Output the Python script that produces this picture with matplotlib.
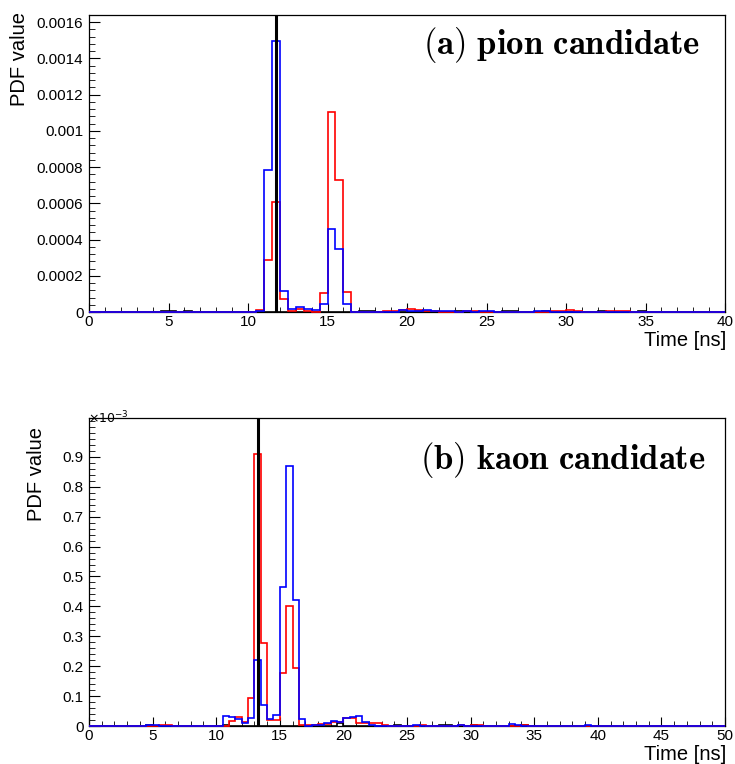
import matplotlib
matplotlib.use("Agg")
import matplotlib.pyplot as plt
from matplotlib.ticker import MultipleLocator, FuncFormatter, FixedLocator
import numpy as np

plt.rcParams['font.family'] = ['Liberation Sans', 'DejaVu Sans']

# ---- (a) pion candidate: 0.5 ns bins, 0-40 ns (bin start time, PDF value)
pion_blue_t = [10.5, 11.0, 11.5, 12.0, 12.5, 13.0, 13.5, 14.0, 14.5, 15.0, 15.5, 16.0,
               19.0, 19.5, 20.0, 20.5, 21.0, 21.5, 22.0, 22.5, 23.5, 24.5, 25.0, 28.0, 28.5]
pion_blue_v = [0.000007, 0.000786, 0.001498, 0.000114, 0.000018, 0.000028, 0.000018,
               0.000013, 0.000042, 0.000458, 0.000348, 0.000042,
               0.000002, 0.000009, 0.000005, 0.000007, 0.000013, 0.000005, 0.000005,
               0.000005, 0.000004, 0.000007, 0.000007, 0.000007, 0.000004]
pion_red_t = [10.5, 11.0, 11.5, 12.0, 12.5, 13.0, 13.5, 14.5, 15.0, 15.5, 16.0,
              18.5, 19.0, 19.5, 20.0, 20.5, 21.0, 21.5, 23.5, 24.0,
              29.0, 29.5, 30.0, 30.5, 32.5, 33.0, 33.5]
pion_red_v = [0.000011, 0.000289, 0.000605, 0.000070, 0.000005, 0.000018, 0.000005,
              0.000105, 0.001104, 0.000730, 0.000108,
              0.000004, 0.000005, 0.000013, 0.000018, 0.000009, 0.000005, 0.000004,
              0.000005, 0.000005, 0.000004, 0.000004, 0.000009, 0.000004,
              0.000004, 0.000004, 0.000004]
pion_black_t = [4.5, 5.0, 6.0, 17.0, 17.5, 23.0, 26.0, 26.5, 28.5, 32.0, 34.5]
pion_black_v = [0.000004, 0.000004, 0.000004, 0.000004, 0.000004, 0.000003,
                0.000003, 0.000003, 0.000004, 0.000003, 0.000004]
pion_time = 11.76

# ---- (b) kaon candidate: 0.5 ns bins, 0-50 ns, values in units of 1e-3
kaon_blue_t = [4.5, 5.0, 10.5, 11.0, 11.5, 12.0, 12.5, 13.0, 13.5, 14.0, 14.5, 15.0,
               15.5, 16.0, 16.5, 17.5, 18.0, 18.5, 19.0, 19.5, 20.0, 20.5, 21.0,
               21.5, 22.0, 25.5, 29.0, 33.0, 33.5, 39.0]
kaon_blue_v = [0.002, 0.002, 0.033, 0.029, 0.022, 0.009, 0.026, 0.220, 0.070, 0.023,
               0.037, 0.464, 0.868, 0.420, 0.022, 0.005, 0.005, 0.009, 0.018, 0.014,
               0.027, 0.031, 0.033, 0.014, 0.005, 0.005, 0.002, 0.006, 0.003, 0.002]
kaon_red_t = [5.5, 6.0, 11.0, 11.5, 12.0, 12.5, 13.0, 13.5, 14.0, 14.5, 15.0, 15.5,
              16.0, 16.5, 17.0, 17.5, 18.0, 18.5, 19.0, 19.5, 20.0, 20.5, 21.0,
              21.5, 22.0, 22.5, 23.0, 26.0, 29.0, 30.0, 30.5, 34.0]
kaon_red_v = [0.002, 0.002, 0.017, 0.030, 0.013, 0.093, 0.910, 0.277, 0.020, 0.020,
              0.176, 0.400, 0.193, 0.002, 0.002, 0.005, 0.008, 0.007, 0.012, 0.012,
              0.026, 0.028, 0.011, 0.009, 0.009, 0.009, 0.002, 0.002, 0.005, 0.002,
              0.002, 0.002]
kaon_black_t = [4.5, 10.5, 19.5, 24.0, 27.5, 28.0, 30.0, 34.0]
kaon_black_v = [0.002, 0.002, 0.010, 0.002, 0.002, 0.002, 0.002, 0.002]
kaon_time = 13.27

pion_yticks = [0, 0.0002, 0.0004, 0.0006, 0.0008, 0.001, 0.0012, 0.0014, 0.0016]
kaon_yticks = [0, 0.1, 0.2, 0.3, 0.4, 0.5, 0.6, 0.7, 0.8, 0.9]

bin_w = 0.5


def fill(t, v, nbins):
    h = np.zeros(nbins)
    idx = np.round(np.array(t) / bin_w).astype(int)
    h[idx] = v
    return h


def style(ax, xmax, yticks, ymin):
    ax.set_xlim(0, xmax)
    ax.xaxis.set_major_locator(MultipleLocator(5))
    ax.xaxis.set_minor_locator(MultipleLocator(1))
    ax.yaxis.set_major_locator(FixedLocator(yticks))
    ax.yaxis.set_minor_locator(MultipleLocator(ymin))
    ax.yaxis.set_major_formatter(FuncFormatter(lambda y, p: '%g' % round(y, 6)))
    ax.tick_params(which='both', direction='in', top=False, right=False, labelsize=11)
    ax.tick_params(axis='x', which='major', length=6.5, pad=2)
    ax.tick_params(axis='x', which='minor', length=3.5)
    ax.tick_params(axis='y', which='major', length=8, pad=4)
    ax.tick_params(axis='y', which='minor', length=4)
    for s in ax.spines.values():
        s.set_linewidth(0.9)


fig = plt.figure(figsize=(7.35, 7.64), dpi=100)

# top panel
ax1 = fig.add_axes([89 / 735, 1 - 312 / 764, 636 / 735, 297 / 764])
edges1 = np.arange(0, 40 + bin_w, bin_w)
n1 = len(edges1) - 1
for t, v, c in [(pion_black_t, pion_black_v, 'black'),
                (pion_red_t, pion_red_v, '#ff0000'),
                (pion_blue_t, pion_blue_v, '#0000ff')]:
    ax1.stairs(fill(t, v, n1), edges1, color=c, lw=1.2, baseline=0,
               clip_on=False, zorder=3)
ax1.axvline(pion_time, color='black', lw=2.2, zorder=4)
ax1.set_ylim(0, 0.00164)
style(ax1, 40, pion_yticks, 0.00004)
ax1.text(0.961, 0.899, r'$\mathbf{(a)\ pion\ candidate}$', transform=ax1.transAxes,
         ha='right', va='center', fontsize=25, math_fontfamily='cm')

# bottom panel
ax2 = fig.add_axes([89 / 735, 1 - 726 / 764, 636 / 735, 308 / 764])
edges2 = np.arange(0, 50 + bin_w, bin_w)
n2 = len(edges2) - 1
for t, v, c in [(kaon_black_t, kaon_black_v, 'black'),
                (kaon_red_t, kaon_red_v, '#ff0000'),
                (kaon_blue_t, kaon_blue_v, '#0000ff')]:
    ax2.stairs(fill(t, v, n2), edges2, color=c, lw=1.2, baseline=0,
               clip_on=False, zorder=3)
ax2.axvline(kaon_time, color='black', lw=2.2, zorder=4)
ax2.set_ylim(0, 1.03)
style(ax2, 50, kaon_yticks, 0.02)
ax2.text(-0.002, 1.0, r'$\times10^{-3}$', transform=ax2.transAxes, ha='left',
         va='center', fontsize=9, math_fontfamily='dejavusans')
ax2.text(0.969, 0.864, r'$\mathbf{(b)\ kaon\ candidate}$', transform=ax2.transAxes,
         ha='right', va='center', fontsize=25, math_fontfamily='cm')

# axis titles
fig.text(20 / 735, 1 - 12 / 764, 'PDF value', rotation=90, ha='center', va='top', fontsize=14.5)
fig.text(36 / 735, 1 - 427 / 764, 'PDF value', rotation=90, ha='center', va='top', fontsize=14.5)
fig.text(726 / 735, 1 - 341 / 764, 'Time [ns]', ha='right', va='center', fontsize=14.5)
fig.text(726 / 735, 1 - 754 / 764, 'Time [ns]', ha='right', va='center', fontsize=14.5)

plt.savefig('out.png', dpi=100)
